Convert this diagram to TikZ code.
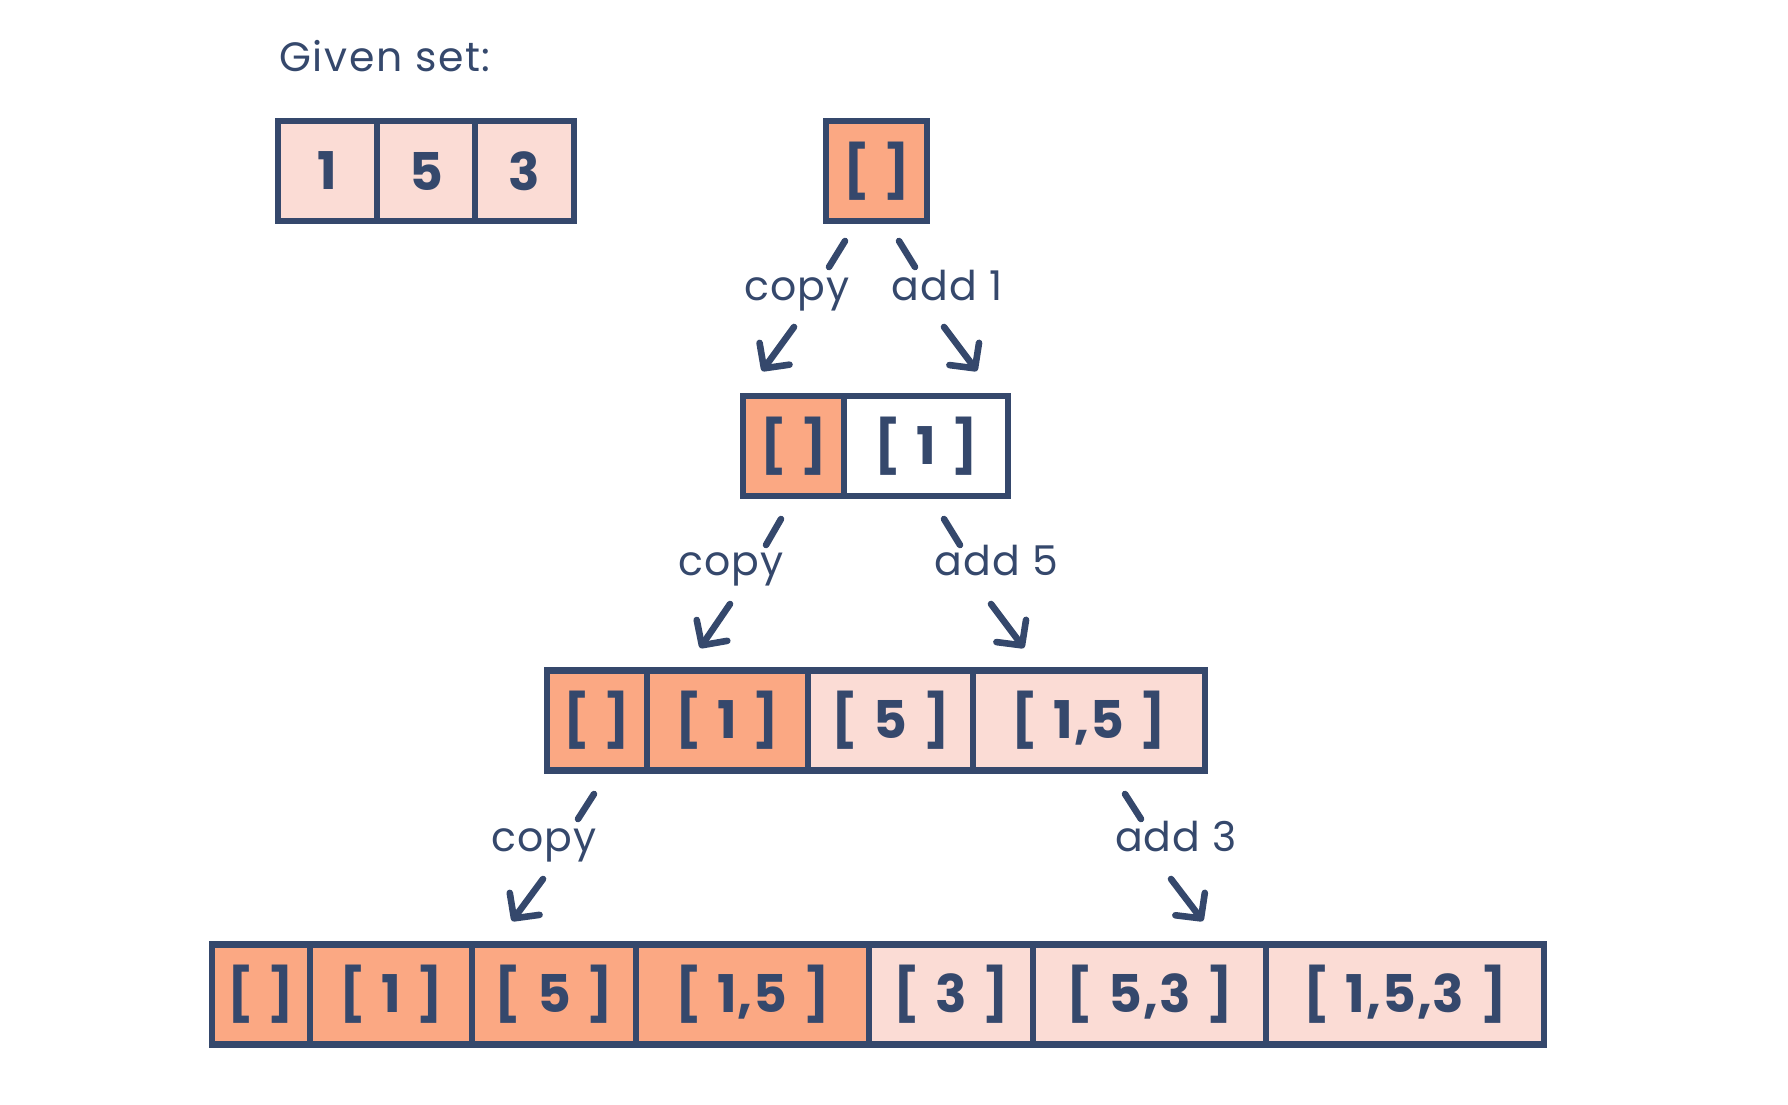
\documentclass[tikz,border=0pt]{standalone}
\usepackage{fontspec}
\setmainfont{Poppins}
\usetikzlibrary{arrows.meta}
\definecolor{navy}{HTML}{35486C}
\definecolor{orng}{HTML}{FBA883}
\definecolor{pnk}{HTML}{FBDCD5}
\newcommand\bgap{\hspace{0.3em}}
\newcommand\blist[1]{[\bgap#1\bgap]}
\begin{document}
\begin{tikzpicture}[x=0.5pt,y=-0.5pt,
  cell/.style={draw=navy, line width=3.3pt, inner sep=0pt, minimum height=50pt,
    text=navy, font=\fontsize{26}{30}\selectfont\bfseries\addfontfeature{LetterSpace=2}},
  cw/.style={minimum width=#1*0.5pt},
  og/.style={cell,fill=orng},
  pk/.style={cell,fill=pnk},
  wh/.style={cell,fill=white},
  lab/.style={text=navy, font=\fontsize{20.5}{24}\selectfont\addfontfeature{LetterSpace=3}, anchor=base, inner sep=0pt},
  conn/.style={draw=navy, line width=3.3pt, line cap=round},
  arr/.style={conn, -{Straight Barb[length=9pt,width=18.5pt,line cap=round,line join=round]}}
]
\useasboundingbox (0,0) rectangle (1788,1104);

% title
\node[text=navy, font=\fontsize{20.5}{24}\selectfont\addfontfeature{LetterSpace=4}, anchor=base west, inner sep=0pt] (title) at (279,71) {Given set:};

% given set
\node[pk,cw=99] (g1) at (327.5,171) {1};
\node[pk,cw=98] (g2) at (426,171) {5};
\node[pk,cw=99] (g3) at (524.5,171) {3};

% root
\node[og,cw=101] (r) at (876.5,171) {[\hspace{0.25em}]};

% level 1
\node[og,cw=101] (l1a) at (793.5,446) {[\hspace{0.25em}]};
\node[wh,cw=164] (l1b) at (926,446) {\blist{1}};

% level 2
\node[og,cw=100] (l2a) at (597,720.5) {[\hspace{0.25em}]};
\node[og,cw=161] (l2b) at (727.5,720.5) {\blist{1}};
\node[pk,cw=165] (l2c) at (890.5,720.5) {\blist{5}};
\node[pk,cw=232] (l2d) at (1089,720.5) {\blist{1,5}};

% level 3
\node[og,cw=98] (l3a) at (261,994.5) {[\hspace{0.25em}]};
\node[og,cw=162] (l3b) at (391,994.5) {\blist{1}};
\node[og,cw=164] (l3c) at (554,994.5) {\blist{5}};
\node[og,cw=233] (l3d) at (752.5,994.5) {\blist{1,5}};
\node[pk,cw=164] (l3e) at (951,994.5) {\blist{3}};
\node[pk,cw=233] (l3f) at (1149.5,994.5) {\blist{5,3}};
\node[pk,cw=278] (l3g) at (1405,994.5) {\blist{1,5,3}};

% labels
\node[lab] (t1c) at (797,300) {copy};
\node[lab] (t1a) at (947,300) {add 1};
\node[lab] (t2c) at (731,575) {copy};
\node[lab] (t2a) at (996,575) {add 5};
\node[lab] (t3c) at (544,851) {copy};
\node[lab] (t3a) at (1176,851) {add 3};

% connector coordinates
\coordinate (c1s) at (845,241); \coordinate (c1m) at (829,267);
\coordinate (c1n) at (794,327); \coordinate (c1e) at (762,371);
\coordinate (a1s) at (899,241); \coordinate (a1m) at (915,267);
\coordinate (a1n) at (944,327); \coordinate (a1e) at (977,371);
\coordinate (c2s) at (781,519); \coordinate (c2m) at (766,545);
\coordinate (c2n) at (730,604); \coordinate (c2e) at (700,648);
\coordinate (a2s) at (944,519); \coordinate (a2m) at (960,545);
\coordinate (a2n) at (991,604); \coordinate (a2e) at (1024,648);
\coordinate (c3s) at (594,794); \coordinate (c3m) at (578,819);
\coordinate (c3n) at (543,879); \coordinate (c3e) at (512,921);
\coordinate (a3s) at (1125,794); \coordinate (a3m) at (1141,819);
\coordinate (a3n) at (1171,879); \coordinate (a3e) at (1203,921);

\draw[conn] (c1s) -- (c1m); \draw[arr] (c1n) -- (c1e);
\draw[conn] (a1s) -- (a1m); \draw[arr] (a1n) -- (a1e);
\draw[conn] (c2s) -- (c2m); \draw[arr] (c2n) -- (c2e);
\draw[conn] (a2s) -- (a2m); \draw[arr] (a2n) -- (a2e);
\draw[conn] (c3s) -- (c3m); \draw[arr] (c3n) -- (c3e);
\draw[conn] (a3s) -- (a3m); \draw[arr] (a3n) -- (a3e);
\end{tikzpicture}
\end{document}
